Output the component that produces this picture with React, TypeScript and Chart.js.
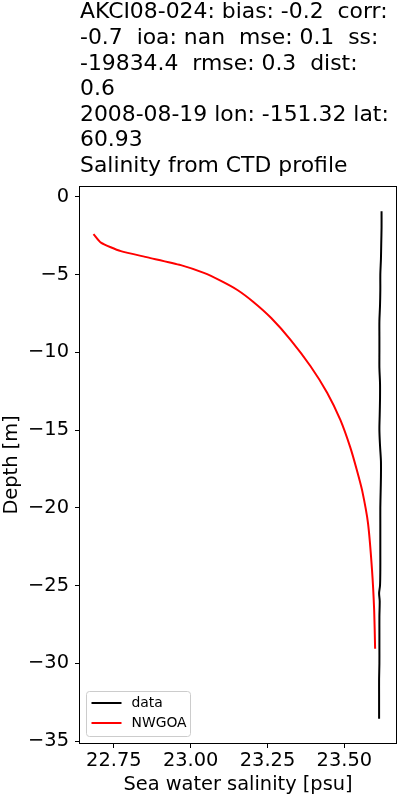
import React, { useEffect, useRef } from 'react';
import { Chart, registerables } from 'chart.js';

Chart.register(...registerables);

const titleLines = [
  'AKCI08-024: bias: -0.2  corr:',
  '-0.7  ioa: nan  mse: 0.1  ss:',
  '-19834.4  rmse: 0.3  dist:',
  '0.6',
  '2008-08-19 lon: -151.32 lat:',
  '60.93',
  'Salinity from CTD profile',
];
const xAxisLabel = 'Sea water salinity [psu]';
const yAxisLabel = 'Depth [m]';
const xTicks = [22.75, 23.0, 23.25, 23.5];
const yTicks = [0, -5, -10, -15, -20, -25, -30, -35];
const seriesLabels = ['data', 'NWGOA'];
const seriesColors = ['#000000', '#ff0000'];

const dataDepth = [-1, -2, -3, -4, -5, -6, -7, -8, -9, -10, -11, -12, -13, -14, -15, -16, -17, -18, -19, -20, -21, -22, -23, -24, -25, -25.5, -26, -27, -28, -29, -30, -31, -32, -33, -33.5];
const dataSalinity = [23.621, 23.621, 23.62, 23.619, 23.617, 23.617, 23.616, 23.614, 23.614, 23.614, 23.614, 23.616, 23.616, 23.615, 23.614, 23.616, 23.619, 23.619, 23.618, 23.617, 23.617, 23.617, 23.617, 23.617, 23.616, 23.613, 23.615, 23.614, 23.614, 23.614, 23.614, 23.613, 23.613, 23.613, 23.613];

const modelDepth = [-2.45, -2.95, -3.5, -3.9, -4.4, -4.9, -5.4, -6.0, -6.8, -7.8, -9.2, -10.9, -12.6, -14.35, -16.1, -17.6, -18.9, -21.0, -24.0, -26.6, -29.0];
const modelSalinity = [22.686, 22.708, 22.773, 22.86, 22.968, 23.043, 23.097, 23.152, 23.206, 23.262, 23.325, 23.39, 23.444, 23.487, 23.519, 23.541, 23.558, 23.577, 23.59, 23.597, 23.6];

const FONT = "'DejaVu Sans', sans-serif";
const FS = 19.4;
const TITLE_FS = 21.9;

const framePlugin = {
  id: 'frame',
  afterDatasetsDraw(chart: any) {
    const { ctx, chartArea: a } = chart;
    ctx.save();
    ctx.strokeStyle = '#000';
    ctx.lineWidth = 1;
    ctx.strokeRect(Math.round(a.left) - 0.5, Math.round(a.top) - 0.5, Math.round(a.right - a.left) + 1, Math.round(a.bottom - a.top) + 1);
    ctx.restore();
  },
};

const legendPlugin = {
  id: 'boxLegend',
  afterDraw(chart: any) {
    const { ctx, chartArea: a } = chart;
    const w = 104, h = 45;
    const x0 = Math.round(a.left) + 6.5;
    const y0 = Math.round(a.bottom) - 7 - h + 0.5;
    const r = 3;
    ctx.save();
    ctx.beginPath();
    ctx.moveTo(x0 + r, y0);
    ctx.arcTo(x0 + w, y0, x0 + w, y0 + h, r);
    ctx.arcTo(x0 + w, y0 + h, x0, y0 + h, r);
    ctx.arcTo(x0, y0 + h, x0, y0, r);
    ctx.arcTo(x0, y0, x0 + w, y0, r);
    ctx.closePath();
    ctx.fillStyle = 'rgba(255,255,255,0.8)';
    ctx.fill();
    ctx.strokeStyle = '#cccccc';
    ctx.lineWidth = 1;
    ctx.stroke();
    chart.data.datasets.forEach((ds: any, i: number) => {
      const y = Math.round(y0 + 11 + i * 20.6);
      ctx.beginPath();
      ctx.moveTo(x0 + 5, y);
      ctx.lineTo(x0 + 35, y);
      ctx.strokeStyle = ds.borderColor;
      ctx.lineWidth = 2;
      ctx.stroke();
      ctx.fillStyle = '#000';
      ctx.font = `13.9px ${FONT}`;
      ctx.textBaseline = 'middle';
      ctx.textAlign = 'left';
      ctx.fillText(ds.label, x0 + 45, y);
    });
    ctx.restore();
  },
};

const fmtY = (v: number) => (v < 0 ? '\u2212' + Math.abs(v) : String(v));

export default function App() {
  const ref = useRef<HTMLCanvasElement | null>(null);
  useEffect(() => {
    if (!ref.current) return;
    const tickFont = { family: FONT, size: FS, weight: 'normal' as const, lineHeight: 1.2 };
    const chart = new Chart(ref.current, {
      type: 'scatter',
      data: {
        datasets: [
          {
            label: seriesLabels[0],
            data: dataDepth.map((d, i) => ({ x: dataSalinity[i], y: d })),
            borderColor: seriesColors[0],
            backgroundColor: seriesColors[0],
            borderWidth: 2,
            showLine: true,
            pointRadius: 0,
            tension: 0.3,
            borderCapStyle: 'square',
            borderJoinStyle: 'round',
          },
          {
            label: seriesLabels[1],
            data: modelDepth.map((d, i) => ({ x: modelSalinity[i], y: d })),
            borderColor: seriesColors[1],
            backgroundColor: seriesColors[1],
            borderWidth: 2,
            showLine: true,
            pointRadius: 0,
            tension: 0.2,
            borderCapStyle: 'square',
            borderJoinStyle: 'round',
          },
        ],
      },
      options: {
        responsive: false,
        animation: false,
        devicePixelRatio: 1,
        layout: { padding: { left: 0, right: 4, top: 0, bottom: 0 } },
        plugins: {
          legend: { display: false },
          tooltip: { enabled: false },
          title: {
            display: true,
            text: titleLines,
            align: 'start',
            fullSize: false,
            color: '#000',
            font: { family: FONT, size: TITLE_FS, weight: 'normal', lineHeight: 25.6 / TITLE_FS },
            padding: { top: 0, bottom: 7.8 },
          },
        },
        scales: {
          x: {
            type: 'linear',
            position: 'bottom',
            min: 22.64,
            max: 23.668,
            afterBuildTicks: (s: any) => {
              s.ticks = xTicks.map((v) => ({ value: v }));
            },
            afterFit: (s: any) => {
              s.height = 57;
            },
            ticks: {
              callback: (v: any) => Number(v).toFixed(2),
              color: '#000',
              font: tickFont,
              padding: 1,
              maxRotation: 0,
              autoSkip: false,
            },
            grid: { drawOnChartArea: false, drawTicks: true, tickLength: 5, color: '#000', lineWidth: 1 },
            border: { display: false },
            title: { display: true, text: xAxisLabel, color: '#000', font: tickFont, padding: { top: 0, bottom: 3 } },
          },
          y: {
            type: 'linear',
            min: -35.125,
            max: 0.625,
            afterBuildTicks: (s: any) => {
              s.ticks = yTicks.map((v) => ({ value: v }));
            },
            afterFit: (s: any) => {
              s.width = 80;
            },
            ticks: {
              callback: (v: any) => fmtY(Number(v)),
              color: '#000',
              font: tickFont,
              padding: 6,
              autoSkip: false,
            },
            grid: { drawOnChartArea: false, drawTicks: true, tickLength: 5, color: '#000', lineWidth: 1 },
            border: { display: false },
            title: { display: true, text: yAxisLabel, color: '#000', font: tickFont, padding: { top: 0, bottom: 0 } },
          },
        },
      },
      plugins: [framePlugin, legendPlugin],
    } as any);
    return () => chart.destroy();
  }, []);
  return (
    <div style={{ position: 'absolute', left: 0, top: 0, width: 400, height: 800, background: '#fff' }}>
      <canvas ref={ref} width={400} height={800} style={{ display: 'block', width: 400, height: 800 }} />
    </div>
  );
}
